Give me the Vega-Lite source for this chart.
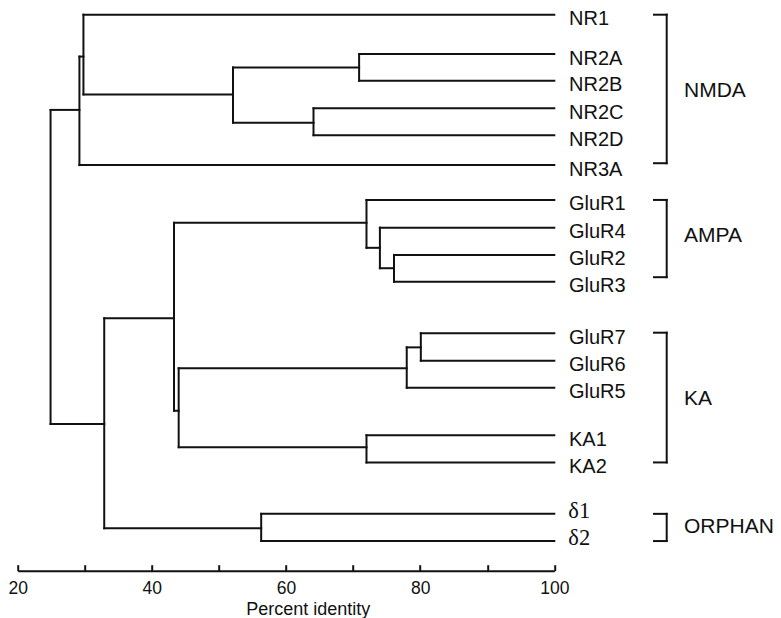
{
  "$schema": "https://vega.github.io/schema/vega-lite/v6.json",
  "width": 536.6,
  "height": 556,
  "autosize": {"type": "none"},
  "padding": {"left": 17.7, "top": 14.7, "right": 226.7, "bottom": 47.3},
  "background": "white",
  "config": {"view": {"stroke": null}},
  "datasets": {
    "links": [
      {"parent": 24.9, "child": 29.2, "y": 3.5},
      {"parent": 24.9, "child": 32.9, "y": 15.05},
      {"parent": 29.2, "child": 29.8, "y": 1.54},
      {"parent": 29.2, "child": 100, "y": 5.53},
      {"parent": 29.8, "child": 100, "y": 0},
      {"parent": 29.8, "child": 52.1, "y": 2.93},
      {"parent": 52.1, "child": 70.9, "y": 1.94},
      {"parent": 52.1, "child": 64.1, "y": 3.97},
      {"parent": 70.9, "child": 100, "y": 1.445},
      {"parent": 70.9, "child": 100, "y": 2.426},
      {"parent": 64.1, "child": 100, "y": 3.44},
      {"parent": 64.1, "child": 100, "y": 4.43},
      {"parent": 32.9, "child": 43.3, "y": 11.16},
      {"parent": 32.9, "child": 56.3, "y": 18.88},
      {"parent": 43.3, "child": 72.0, "y": 7.65},
      {"parent": 43.3, "child": 44.0, "y": 14.56},
      {"parent": 72.0, "child": 100, "y": 6.81},
      {"parent": 72.0, "child": 74.0, "y": 8.57},
      {"parent": 74.0, "child": 100, "y": 7.83},
      {"parent": 74.0, "child": 76.1, "y": 9.32},
      {"parent": 76.1, "child": 100, "y": 8.83},
      {"parent": 76.1, "child": 100, "y": 9.82},
      {"parent": 44.0, "child": 78.0, "y": 13.0},
      {"parent": 44.0, "child": 72.0, "y": 15.9},
      {"parent": 78.0, "child": 80.1, "y": 12.23},
      {"parent": 78.0, "child": 100, "y": 13.71},
      {"parent": 80.1, "child": 100, "y": 11.71},
      {"parent": 80.1, "child": 100, "y": 12.72},
      {"parent": 72.0, "child": 100, "y": 15.46},
      {"parent": 72.0, "child": 100, "y": 16.46},
      {"parent": 56.3, "child": 100, "y": 18.35},
      {"parent": 56.3, "child": 100, "y": 19.35}
    ],
    "nodes": [
      {"height": 24.9, "y1": 3.5, "y2": 15.05},
      {"height": 29.2, "y1": 1.54, "y2": 5.53},
      {"height": 29.8, "y1": 0, "y2": 2.93},
      {"height": 52.1, "y1": 1.94, "y2": 3.97},
      {"height": 70.9, "y1": 1.445, "y2": 2.426},
      {"height": 64.1, "y1": 3.44, "y2": 4.43},
      {"height": 32.9, "y1": 11.16, "y2": 18.88},
      {"height": 43.3, "y1": 7.65, "y2": 14.56},
      {"height": 72.0, "y1": 6.81, "y2": 8.57},
      {"height": 74.0, "y1": 7.83, "y2": 9.32},
      {"height": 76.1, "y1": 8.83, "y2": 9.82},
      {"height": 44.0, "y1": 13.0, "y2": 15.9},
      {"height": 78.0, "y1": 12.23, "y2": 13.71},
      {"height": 80.1, "y1": 11.71, "y2": 12.72},
      {"height": 72.0, "y1": 15.46, "y2": 16.46},
      {"height": 56.3, "y1": 18.35, "y2": 19.35}
    ],
    "leaves": [
      {"name": "NR1", "y": 0, "serif": false},
      {"name": "NR2A", "y": 1.445, "serif": false},
      {"name": "NR2B", "y": 2.426, "serif": false},
      {"name": "NR2C", "y": 3.44, "serif": false},
      {"name": "NR2D", "y": 4.43, "serif": false},
      {"name": "NR3A", "y": 5.53, "serif": false},
      {"name": "GluR1", "y": 6.81, "serif": false},
      {"name": "GluR4", "y": 7.83, "serif": false},
      {"name": "GluR2", "y": 8.83, "serif": false},
      {"name": "GluR3", "y": 9.82, "serif": false},
      {"name": "GluR7", "y": 11.71, "serif": false},
      {"name": "GluR6", "y": 12.72, "serif": false},
      {"name": "GluR5", "y": 13.71, "serif": false},
      {"name": "KA1", "y": 15.46, "serif": false},
      {"name": "KA2", "y": 16.46, "serif": false},
      {"name": "δ1", "y": 18.35, "serif": true},
      {"name": "δ2", "y": 19.35, "serif": true}
    ],
    "groups": [
      {"name": "NMDA", "top": 0, "bottom": 5.46, "label": 2.79},
      {"name": "AMPA", "top": 6.81, "bottom": 9.65, "label": 8.12},
      {"name": "KA", "top": 11.69, "bottom": 16.46, "label": 14.13},
      {"name": "ORPHAN", "top": 18.35, "bottom": 19.35, "label": 18.82}
    ]
  },
  "layer": [
    {
      "data": {"name": "links"},
      "mark": {"type": "rule", "color": "#111", "strokeWidth": 2, "strokeCap": "square"},
      "encoding": {
        "x": {"field": "parent", "type": "quantitative",
          "scale": {"domain": [20, 100], "nice": false, "zero": false},
          "axis": {
            "values": [20, 30, 40, 50, 60, 70, 80, 90, 100],
            "labelExpr": "datum.value % 20 === 0 ? datum.label : ''",
            "grid": false,
            "domainColor": "#111", "domainWidth": 2,
            "tickColor": "#111", "tickWidth": 2, "tickSize": -6,
            "labelPadding": 15, "labelFlush": false,
            "labelFont": "Liberation Sans", "labelFontSize": 17.5, "labelColor": "#111",
            "title": "Percent identity",
            "titleFont": "Liberation Sans", "titleFontSize": 18, "titleFontWeight": "normal",
            "titleColor": "#111", "titleX": 290, "titleY": 43.3,
            "titleBaseline": "alphabetic", "titleAlign": "center"
          }
        },
        "x2": {"field": "child"},
        "y": {"field": "y", "type": "quantitative",
          "scale": {"domain": [0, 20.44], "reverse": true, "nice": false, "zero": false},
          "axis": null}
      }
    },
    {
      "data": {"name": "nodes"},
      "mark": {"type": "rule", "color": "#111", "strokeWidth": 2, "strokeCap": "square"},
      "encoding": {
        "x": {"field": "height", "type": "quantitative"},
        "y": {"field": "y1", "type": "quantitative"},
        "y2": {"field": "y2"}
      }
    },
    {
      "data": {"name": "leaves"},
      "transform": [{"filter": "!datum.serif"}],
      "mark": {"type": "text", "align": "left", "baseline": "alphabetic", "dx": 14.7, "dy": 10.5,
        "font": "Liberation Sans", "fontSize": 20, "color": "#111"},
      "encoding": {
        "x": {"datum": 100, "type": "quantitative"},
        "y": {"field": "y", "type": "quantitative"},
        "text": {"field": "name"}
      }
    },
    {
      "data": {"name": "leaves"},
      "transform": [{"filter": "datum.serif"}],
      "mark": {"type": "text", "align": "left", "baseline": "alphabetic", "dx": 14, "dy": 4,
        "font": "Liberation Serif", "fontSize": 22.5, "color": "#111"},
      "encoding": {
        "x": {"datum": 100, "type": "quantitative"},
        "y": {"field": "y", "type": "quantitative"},
        "text": {"field": "name"}
      }
    },
    {
      "data": {"name": "groups"},
      "mark": {"type": "rule", "color": "#111", "strokeWidth": 2, "strokeCap": "square", "xOffset": 112.4},
      "encoding": {
        "x": {"datum": 100, "type": "quantitative"},
        "y": {"field": "top", "type": "quantitative"},
        "y2": {"field": "bottom"}
      }
    },
    {
      "data": {"name": "groups"},
      "mark": {"type": "rule", "color": "#111", "strokeWidth": 2, "strokeCap": "square", "xOffset": 99.7, "x2Offset": 112.4},
      "encoding": {
        "x": {"datum": 100, "type": "quantitative"},
        "x2": {"datum": 100},
        "y": {"field": "top", "type": "quantitative"}
      }
    },
    {
      "data": {"name": "groups"},
      "mark": {"type": "rule", "color": "#111", "strokeWidth": 2, "strokeCap": "square", "xOffset": 99.7, "x2Offset": 112.4},
      "encoding": {
        "x": {"datum": 100, "type": "quantitative"},
        "x2": {"datum": 100},
        "y": {"field": "bottom", "type": "quantitative"}
      }
    },
    {
      "data": {"name": "groups"},
      "mark": {"type": "text", "align": "left", "baseline": "middle", "dx": 129.7,
        "font": "Liberation Sans", "fontSize": 21, "color": "#111"},
      "encoding": {
        "x": {"datum": 100, "type": "quantitative"},
        "y": {"field": "label", "type": "quantitative"},
        "text": {"field": "name"}
      }
    }
  ]
}
